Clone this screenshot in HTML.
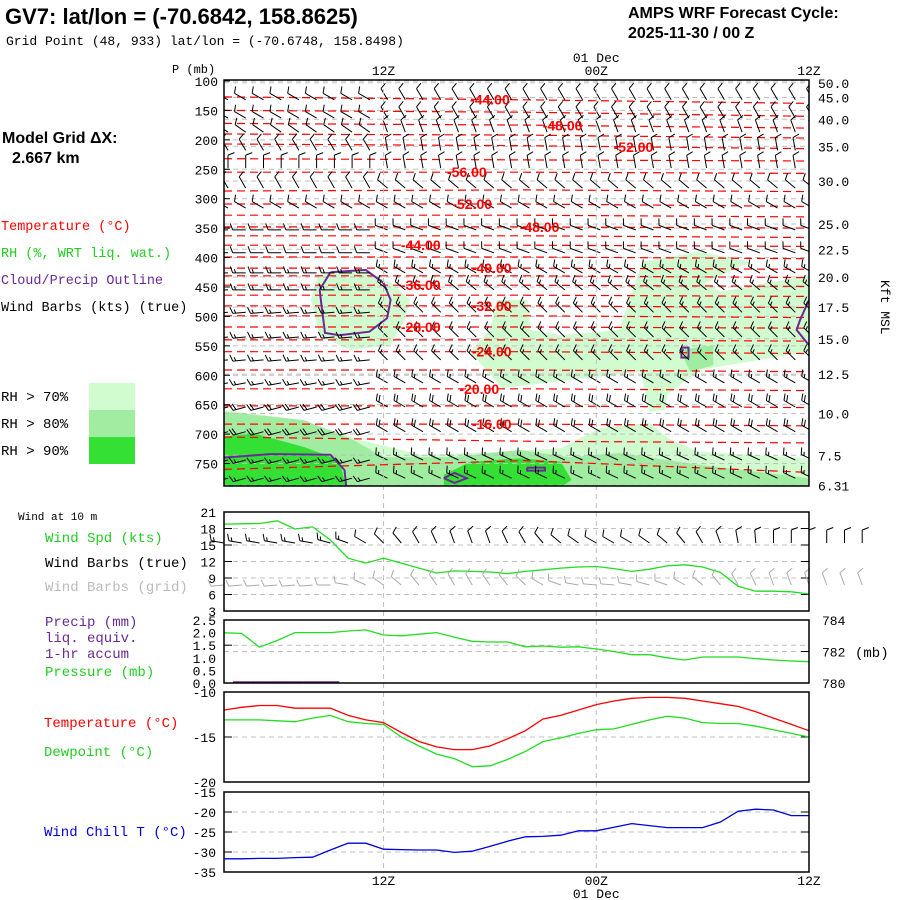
<!DOCTYPE html>
<html><head><meta charset="utf-8"><style>
body{margin:0;background:#fff;}
svg{display:block;}
text{font-family:"Liberation Mono","DejaVu Sans Mono",monospace;}
.lab{font-family:"Liberation Sans",sans-serif;}
</style></head><body>
<svg id="chart" width="900" height="900" viewBox="0 0 900 900" xmlns="http://www.w3.org/2000/svg">
<g>
<text class="lab" x="5" y="24" font-size="22" font-weight="bold">GV7:  lat/lon = (-70.6842, 158.8625)</text>
<text x="6" y="45" font-size="13">Grid Point (48, 933) lat/lon = (-70.6748, 158.8498)</text>
<text class="lab" x="628" y="18" font-size="16" font-weight="bold">AMPS WRF Forecast Cycle:</text>
<text class="lab" x="628" y="38" font-size="16" font-weight="bold">2025-11-30 / 00  Z</text>
<text class="lab" x="2" y="143" font-size="16" font-weight="bold">Model Grid ΔX:</text>
<text class="lab" x="12" y="163" font-size="16" font-weight="bold">2.667 km</text>
<text x="1" y="230" font-size="13.5" fill="#ff0000">Temperature (°C)</text>
<text x="1" y="257" font-size="13.5" fill="#22cc22">RH (%, WRT liq. wat.)</text>
<text x="1" y="284" font-size="13.5" fill="#6a2a96">Cloud/Precip Outline</text>
<text x="1" y="311" font-size="13.5" fill="#000">Wind Barbs (kts) (true)</text>
<text x="1" y="401" font-size="14">RH &gt; 70%</text>
<text x="1" y="428" font-size="14">RH &gt; 80%</text>
<text x="1" y="455" font-size="14">RH &gt; 90%</text>
<rect x="89" y="383" width="46" height="27" fill="#d0fcd0"/>
<rect x="89" y="410" width="46" height="27" fill="#a0eca0"/>
<rect x="89" y="437" width="46" height="27" fill="#34e034"/>
<text x="172" y="73" font-size="12">P (mb)</text>
<text x="0" y="0" font-size="13" transform="translate(881,280) rotate(90)">Kft MSL</text>
<text x="18" y="520" font-size="11">Wind at 10 m</text>
<text x="45" y="542" font-size="14" fill="#22cc22">Wind Spd (kts)</text>
<text x="45" y="567" font-size="14" fill="#000">Wind Barbs (true)</text>
<text x="45" y="591" font-size="14" fill="#bbbbbb">Wind Barbs (grid)</text>
<text x="45" y="626" font-size="14" fill="#6a2a96">Precip (mm)</text>
<text x="45" y="642" font-size="14" fill="#6a2a96">liq. equiv.</text>
<text x="45" y="658" font-size="14" fill="#6a2a96">1-hr accum</text>
<text x="45" y="676" font-size="14" fill="#22cc22">Pressure (mb)</text>
<text x="44" y="727" font-size="14" fill="#ff0000">Temperature (°C)</text>
<text x="44" y="756" font-size="14" fill="#22cc22">Dewpoint (°C)</text>
<text x="44" y="836" font-size="14" fill="#0000dd">Wind Chill T (°C)</text>
<text x="855" y="657" font-size="14">(mb)</text>
</g>
<g id="plot"></g>
</svg>
<script>
// ---------- data ----------
const hours = [3,4,5,6,7,8,9,10,11,12,13,14,15,16,17,18,19,20,21,22,23,24,25,26,27,28,29,30,31,32,33,34,35,36];
const tempC = [-12.0,-11.7,-11.5,-11.5,-11.8,-11.8,-11.8,-12.6,-13.1,-13.4,-14.5,-15.5,-16.1,-16.4,-16.4,-16.0,-15.2,-14.3,-13.0,-12.6,-12.0,-11.4,-11.0,-10.7,-10.6,-10.6,-10.7,-11.0,-11.3,-11.6,-12.2,-12.9,-13.6,-14.3];
const dewC = [-13.1,-13.1,-13.1,-13.2,-13.3,-12.9,-12.6,-13.3,-13.5,-13.6,-15.0,-16.0,-16.9,-17.4,-18.3,-18.2,-17.5,-16.6,-15.5,-15.1,-14.6,-14.2,-14.1,-13.6,-13.1,-12.7,-12.9,-13.4,-13.5,-13.5,-13.8,-14.2,-14.6,-15.0];
const windChill = [-31.7,-31.7,-31.6,-31.6,-31.4,-31.3,-29.5,-27.8,-27.8,-29.3,-29.4,-29.5,-29.5,-30.1,-29.8,-28.6,-27.3,-26.2,-26.1,-25.8,-24.7,-24.7,-23.8,-22.9,-23.4,-23.9,-23.9,-23.9,-22.5,-19.8,-19.3,-19.5,-20.9,-20.9];
const windSpd = [18.8,18.85,18.9,19.4,17.9,18.3,15.9,12.6,11.7,12.6,11.7,10.8,9.9,10.3,10.2,10.1,9.8,10.2,10.5,10.8,11.0,11.1,10.7,10.2,10.6,11.2,11.4,11.0,10.0,7.5,6.6,6.6,6.5,6.1];
const sfcPres = [783.19,783.15,782.27,782.7,783.2,783.2,783.2,783.3,783.37,783.05,783.0,783.1,783.2,782.9,782.65,782.6,782.6,782.3,782.35,782.27,782.3,782.16,782.0,781.8,781.8,781.6,781.46,781.65,781.65,781.65,781.55,781.46,781.4,781.35];
const precipMm = [0,0.03,0.03,0.03,0.03,0.03,0.03,0,0,0,0,0,0,0,0,0,0,0,0,0,0,0,0,0,0,0,0,0,0,0,0,0,0,0];
const sfcBarbHours = [3,4,5,6,7,8,9,10,11,12,13,14,15,16,17,18,19,20,21,22,23,24,25,26,27,28,29,30,31,32,33,34,35,36,37,38,39];
const sfcBarbDir = [280,280,280,280,280,280,285,290,300,315,320,330,335,340,340,340,335,330,320,310,305,300,300,300,305,310,320,330,340,350,355,360,360,360,360,360,360];
const sfcBarbSpd = [15,15,15,15,15,15,15,15,10,10,10,10,10,10,10,10,10,10,10,10,10,10,10,10,10,10,10,10,10,10,10,10,10,10,10,10,10];
const gridBarbDir = [265,265,265,265,265,265,270,280,295,305,310,320,325,330,330,325,320,315,300,290,280,275,275,280,285,290,300,310,320,330,335,340,340,340,340,340,340];
const gridBarbSpd = [10,10,10,10,10,10,10,10,10,10,10,10,10,10,10,10,10,10,10,10,10,10,10,10,10,10,10,10,10,10,10,10,10,10,10,10,10];
const barbLevels = [132,163,187,218,248,282,316,353,392,426,455,493,535,574,613,654,696,744,775];
const barbDirEarly = [300,300,305,330,360,330,300,270,270,270,270,265,265,265,260,255,255,255,255];
const barbDirLate  = [330,330,340,350,350,310,300,290,290,300,310,315,315,315,300,300,300,295,295];
const barbSpd      = [10,10,10,10,10,10,10,10,10,15,15,15,15,15,15,20,20,15,15];
const isoVals = [-44,-46,-48,-50,-52,-54,-56,-54,-52,-50,-48,-46,-44,-42,-40,-38,-36,-34,-32,-30,-28,-26,-24,-22,-20,-18,-16,-14,-12];
const isoPStart = [127,150,172,190,207,232,255,287,309,328,348,363,379,399,418,431,447,464,482,499,518,540,560,591,623,652,683,705,760];
const isoPMid   = [132,153,175,192,210,234,255,285,309,328,348,363,379,399,418,431,447,464,482,499,518,540,560,591,623,652,683,712,745];
const isoPEnd   = [138,160,180,197,215,236,257,288,313,331,350,366,381,402,420,434,449,466,485,502,520,542,563,594,626,655,686,715,765];
const isoLabelVals = [-44,-48,-52,-56,-52,-48,-44,-40,-36,-32,-28,-24,-20,-16];
const isoLabelIdx = [0,2,4,6,8,10,12,14,16,18,20,22,24,26];
const isoLabelHour = [18,22.1,26.1,16.7,17,20.8,14.1,18.1,14.1,18.1,14.1,18.1,17.4,18.1];
const rh70Upper = [[18.4,472],[20.1,472],[20.3,523],[22,532],[25.3,523],[26.6,407],[29.8,390],[32.7,407],[30.1,443],[31,458],[36,430],[36,560],[29.8,591],[28,633],[27.9,659],[27,662],[26.5,594],[21.6,611],[18.7,622],[16.9,560],[18,523]];
const rh70Blob = [[8.3,430],[10.7,418],[12.6,447],[13.5,472],[13.2,506],[12.4,549],[10.1,557],[8.4,532],[7.9,472]];
const rh70Low = [[3,659],[7.3,676],[10.7,710],[14.1,735],[18.6,730],[22,724],[24.2,690],[27,681],[28.2,710],[29.8,730],[36,741],[36,790],[3,790]];
const rh80Low = [[3,662],[7.5,676],[10.3,710],[12,739],[15.9,739],[19.7,727],[22.5,739],[25.3,732],[29.8,752],[36,775],[36,790],[3,790]];
const rh80Mid = [[28.7,557],[30.6,549],[30.6,583],[29.3,594]];
const rh90Low = [[3,705],[4.6,698],[7.5,722],[9.5,744],[9.9,790],[3,790]];
const rh90Blob = [[15.4,769],[16.9,747],[19.7,741],[22,747],[22.6,778],[22,790],[15.4,790]];
const cloudCircle = [[9,425],[11,421],[12,443],[12.4,472],[12.2,503],[11.2,526],[9.5,532],[8.7,528],[8.5,481],[8.4,455],[9,425]];
const cloudLow = [[3,740],[5.6,734],[9,735],[9.8,761],[9.9,790]];
const cloudDiamond = [[15.4,775],[16,766],[16.7,775],[16,783],[15.4,775]];
const cloudSmall = [[20.1,757],[21.1,757],[21.1,762],[20.1,762],[20.1,757]];
const cloudRight = [[36,472],[35.5,506],[35.3,523],[36,549]];
const cloudTiny = [[28.8,553],[29.2,553],[29.2,570],[28.8,570],[28.8,553]];
const presTicks = [100,150,200,250,300,350,400,450,500,550,600,650,700,750];
const kftLabels = ["50.0","45.0","40.0","35.0","30.0","25.0","22.5","20.0","17.5","15.0","12.5","10.0","7.5","6.31"];
const kftPres = [103,128,165,211,270,343,386,433,484,538,598,665,736,787];
const spdTicks = [21,18,15,12,9,6,3];
const precipTicks = ["2.5","2.0","1.5","1.0","0.5","0.0"];
const presRightTicks = [784,782,780];
const tempTicks = [-10,-15,-20];
const chillTicks = [-15,-20,-25,-30,-35];

// ---------- scales ----------
const X0=224,X1=809;
const xH = h => X0 + (h-3)*(X1-X0)/33;
const yP = p => 81 + (p-100)*0.5885;
const ySpd = s => 512 + (21-s)*5.5;
const yMm = m => 683 - m*25.2;
const yPres = mb => 683 - (mb-780)*15.75;
const yT = t => 692 + (-10-t)*9;
const yWC = t => 792 + (-15-t)*4;

const NS="http://www.w3.org/2000/svg";
const plot=document.getElementById('plot');
function mk(tag,attrs,parent){const e=document.createElementNS(NS,tag);for(const k in attrs)e.setAttribute(k,attrs[k]);(parent||plot).appendChild(e);return e;}
function poly(pts,fx,fy){return pts.map((p,i)=>(i?'L':'M')+fx(p[0]).toFixed(1)+','+fy(p[1]).toFixed(1)).join('');}

const defs=mk('defs',{});
const cp=mk('clipPath',{id:'mainclip'},defs);
mk('rect',{x:X0,y:80,width:X1-X0,height:406},cp);

// ---------- main panel ----------
const main=mk('g',{'clip-path':'url(#mainclip)'});


function area(pts,fill,name){
  const e=mk('path',{d:poly(pts,xH,yP)+'Z',fill:fill},main);
  
  
}
area(rh70Upper,'#d0fcd0','rh70-upper-area');
area(rh70Blob,'#d0fcd0','rh70-blob-area');
area(rh70Low,'#d0fcd0','rh70-low-area');
area(rh80Low,'#a0eca0','rh80-low-area');
area(rh80Mid,'#a0eca0','rh80-mid-area');
area(rh90Low,'#34e034','rh90-low-area');
area(rh90Blob,'#34e034','rh90-blob-area');
presTicks.forEach(p=>{const l=mk('line',{x1:X0,x2:X1,y1:yP(p),y2:yP(p),stroke:'#c0c0c0','stroke-dasharray':'5,4'},main);

});
kftPres.forEach(p=>{const l=mk('line',{x1:X0,x2:X1,y1:yP(p),y2:yP(p),stroke:'#c0c0c0','stroke-dasharray':'5,4'},main);

});
isoVals.forEach((v,i)=>{
  const pts=[[3,isoPStart[i]],[20,isoPMid[i]],[36,isoPEnd[i]]];
  const l=mk('path',{d:poly(pts,xH,yP),fill:'none',stroke:'#ff0000','stroke-width':1.2,'stroke-dasharray':'8,5'},main);
  
  
});
function isoAt(i,h){return h<=20? isoPStart[i]+(isoPMid[i]-isoPStart[i])*(h-3)/17 : isoPMid[i]+(isoPEnd[i]-isoPMid[i])*(h-20)/16;}
[cloudCircle,cloudLow,cloudDiamond,cloudSmall,cloudRight,cloudTiny].forEach(pts=>{
  const l=mk('path',{d:poly(pts,xH,yP),fill:'none',stroke:'#6a2a96','stroke-width':2},main);
  
  
});
function barb(g,x,y,dir,spd,color,L){
  L=L||13;
  const d=dir*Math.PI/180, ux=Math.sin(d), uy=-Math.cos(d);
  const ex=x+ux*L, ey=y+uy*L;
  let s='M'+x.toFixed(1)+','+y.toFixed(1)+'L'+ex.toFixed(1)+','+ey.toFixed(1);
  const a=d+Math.PI/2.6, bx=Math.sin(a), by=-Math.cos(a);
  let n=Math.round(spd/5), pos=0;
  while(n>=2){const sx=ex-ux*pos, sy=ey-uy*pos; s+='M'+sx.toFixed(1)+','+sy.toFixed(1)+'l'+(bx*7).toFixed(1)+','+(by*7).toFixed(1); n-=2; pos+=3;}
  if(n===1){if(pos===0)pos=3; const sx=ex-ux*pos, sy=ey-uy*pos; s+='M'+sx.toFixed(1)+','+sy.toFixed(1)+'l'+(bx*4).toFixed(1)+','+(by*4).toFixed(1);}
  const e=mk('path',{d:s,fill:'none',stroke:color,'stroke-width':1},g);
  
  
}
barbLevels.forEach((p,li)=>{
  hours.forEach(h=>{
    const dir=h<12?barbDirEarly[li]:barbDirLate[li];
    barb(main,xH(h)+4,yP(p),dir,barbSpd[li],'#000');
  });
});
isoLabelVals.forEach((v,k)=>{
  const i=isoLabelIdx[k],h=isoLabelHour[k];
  const t=mk('text',{x:xH(h),y:yP(isoAt(i,h))+5,'text-anchor':'middle','font-size':14,'font-weight':'bold',fill:'#ff0000',style:'font-family:"Liberation Sans",sans-serif'},main);
  t.textContent=v.toFixed(2);
  
  
});
[12,24].forEach(h=>{const l=mk('line',{x1:xH(h),x2:xH(h),y1:80,y2:872,stroke:'#c0c0c0','stroke-dasharray':'5,4'});

});
const mf=mk('rect',{x:X0,y:80,width:X1-X0,height:406,fill:'none',stroke:'#000','stroke-width':1.5});


presTicks.forEach(p=>{
  const t=mk('text',{x:218,y:yP(p)+5,'text-anchor':'end','font-size':13});
  t.textContent=p;
  
  
  const tk=mk('line',{x1:X0,x2:X0+6,y1:yP(p),y2:yP(p),stroke:'#000'});
  
  
});
kftLabels.forEach((s,i)=>{
  const t=mk('text',{x:818,y:yP(kftPres[i])+5,'font-size':13});
  t.textContent=s;
  
  
});

// ---------- panels ----------
function frame(y,h,name){
  const r=mk('rect',{x:X0,y:y,width:X1-X0,height:h,fill:'none',stroke:'#000','stroke-width':1.5});
  
  
}
function hgrid(y,left,right){
  const l=mk('line',{x1:X0,x2:X1,y1:y,y2:y,stroke:'#c0c0c0','stroke-dasharray':'5,4'});
  
  
  if(left){const a=mk('line',{x1:X0,x2:X0+8,y1:y,y2:y,stroke:'#000'});}
  if(right){const b=mk('line',{x1:X1-8,x2:X1,y1:y,y2:y,stroke:'#000'});}
}
function ylab(x,y,s,anchor){
  const t=mk('text',{x:x,y:y+5,'text-anchor':anchor||'end','font-size':13});
  t.textContent=s;
  
  
}
function line(vals,fy,color,name){
  const e=mk('path',{d:poly(hours.map((h,i)=>[h,vals[i]]),xH,fy),fill:'none',stroke:color,'stroke-width':1.3});
  
  
}
spdTicks.forEach((s,i)=>{ if(i>0&&i<spdTicks.length-1) hgrid(ySpd(s),true,true); ylab(216,ySpd(s),s); });
line(windSpd,ySpd,'#22dd22','wind-speed-line');
sfcBarbHours.forEach((h,i)=>{ barb(plot,xH(h),585,gridBarbDir[i],gridBarbSpd[i],'#aaaaaa',13); });
sfcBarbHours.forEach((h,i)=>{ barb(plot,xH(h),543,sfcBarbDir[i],sfcBarbSpd[i],'#000',13); });
frame(512,99,'wind-panel-frame');
precipTicks.forEach(s=>{ ylab(216,yMm(parseFloat(s)),s); });
hgrid(yMm(1.5),true,false); hgrid(yPres(782),false,true);
presRightTicks.forEach(v=>ylab(822,yPres(v),v,'start'));
line(sfcPres,yPres,'#22dd22','pressure-line');
hours.forEach((h,i)=>{ if(precipMm[i]>0){const r=mk('rect',{x:xH(h)-8.8,y:yMm(precipMm[i])-1,width:17.7,height:Math.max(2,precipMm[i]*25.2+1),fill:'#6a2a96'});

} });
frame(620,63,'precip-panel-frame');
tempTicks.forEach((t,i)=>{ if(i===1) hgrid(yT(t),true,true); ylab(216,yT(t),t); });
line(dewC,yT,'#22dd22','dewpoint-line');
line(tempC,yT,'#ff0000','temperature-line');
frame(692,90,'temperature-panel-frame');
chillTicks.forEach((t,i)=>{ if(i>0&&i<chillTicks.length-1) hgrid(yWC(t),true,true); ylab(216,yWC(t),t); });
line(windChill,yWC,'#0000dd','wind-chill-line');
frame(792,80,'wind-chill-panel-frame');

[[12,'12Z',75],[24,'00Z',75],[36,'12Z',75],[12,'12Z',885],[24,'00Z',885],[36,'12Z',885]].forEach(a=>{
  const t=mk('text',{x:xH(a[0]),y:a[2],'text-anchor':'middle','font-size':13});
  t.textContent=a[1];
  
  
});
[[62],[898]].forEach(a=>{
  const t=mk('text',{x:xH(24),y:a[0],'text-anchor':'middle','font-size':13});
  t.textContent='01 Dec';
  
  
});
</script>
</body></html>
